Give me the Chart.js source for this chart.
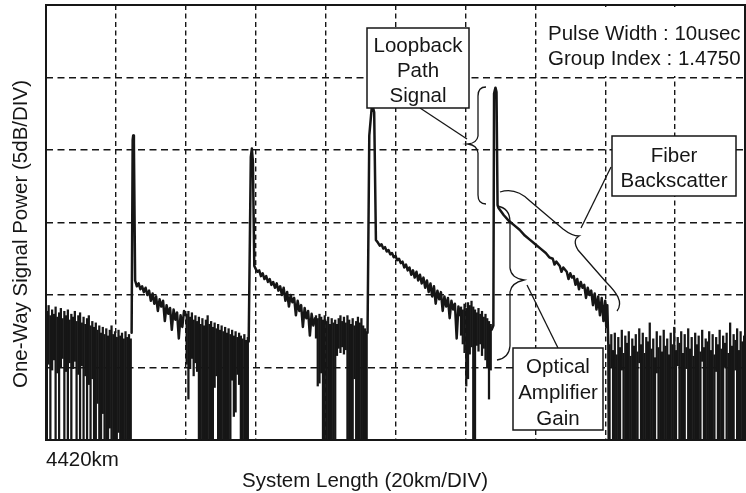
<!DOCTYPE html>
<html>
<head>
<meta charset="utf-8">
<script src="https://cdn.jsdelivr.net/npm/chart.js@4.4.1/dist/chart.umd.min.js"></script>
<style>
  html, body { margin: 0; padding: 0; background: #fff; }
  canvas { display: block; }
</style>
</head>
<body>
<canvas id="otdr" width="746" height="493"></canvas>
<script>
// OTDR trace across four amplifier spans, 20 km and 5 dB per division.
const distanceRangeKm = [4420, 4620];
const powerRangeDb = [0, 30];
const distanceTickLabels = ['4420km'];

// Noise-floor stretches: 0.5 km bins as [bin centre km, min dB, max dB]
const leadNoise = [
  [4420.25, 0, 8.9], [4420.75, 5.2, 9.3], [4421.25, 0, 8.6], [4421.75, 4.8, 9.0], [4422.25, 5.5, 8.7],
  [4422.75, 0, 9.2], [4423.25, 4.6, 8.5], [4423.75, 0, 8.8], [4424.25, 5.0, 9.1], [4424.75, 5.6, 8.4],
  [4425.25, 0, 8.9], [4425.75, 4.7, 8.6], [4426.25, 0, 9.0], [4426.75, 5.3, 8.3], [4427.25, 0, 8.7],
  [4427.75, 4.9, 8.5], [4428.25, 5.4, 8.9], [4428.75, 0, 8.2], [4429.25, 4.5, 8.6], [4429.75, 0, 8.8],
  [4430.25, 5.1, 8.1], [4430.75, 0, 8.5], [4431.25, 4.4, 8.0], [4431.75, 0, 8.4], [4432.25, 3.8, 8.6],
  [4432.75, 0, 7.9], [4433.25, 4.2, 8.2], [4433.75, 0, 7.8], [4434.25, 0, 8.1], [4434.75, 2.5, 7.6],
  [4435.25, 0, 7.9], [4435.75, 0, 7.4], [4436.25, 1.8, 7.8], [4436.75, 0, 7.3], [4437.25, 0, 7.7],
  [4437.75, 0, 7.2], [4438.25, 0.8, 7.6], [4438.75, 0, 7.9], [4439.25, 0, 7.3], [4439.75, 0, 7.5],
  [4440.25, 0, 7.1], [4440.75, 0.5, 7.6], [4441.25, 0, 7.2], [4441.75, 0, 7.4], [4442.25, 0, 7.0],
  [4442.75, 0, 7.5], [4443.25, 0, 7.1], [4443.75, 0, 7.3], [4444.25, 0, 7.0]
];
const tailNoise1 = [
  [4460.25, 5.2, 8.7], [4460.75, 2.8, 8.9], [4461.25, 4.9, 8.5], [4461.75, 5.6, 8.8], [4462.25, 4.4, 8.3],
  [4462.75, 5.3, 8.6], [4463.25, 4.7, 8.2], [4463.75, 0, 8.5], [4464.25, 0, 8.0], [4464.75, 0, 8.4],
  [4465.25, 0, 7.9], [4465.75, 0, 8.3], [4466.25, 0, 8.6], [4466.75, 0, 8.0], [4467.25, 0, 8.2],
  [4467.75, 0, 7.8], [4468.25, 3.6, 8.1], [4468.75, 4.4, 7.7], [4469.25, 0, 8.0], [4469.75, 0, 7.6],
  [4470.25, 0, 7.9], [4470.75, 0, 7.5], [4471.25, 0, 7.8], [4471.75, 0, 7.4], [4472.25, 0, 7.7],
  [4472.75, 0, 7.3], [4473.25, 4.1, 7.6], [4473.75, 1.6, 7.2], [4474.25, 1.9, 7.5], [4474.75, 4.5, 7.1],
  [4475.25, 3.8, 7.4], [4475.75, 0, 7.2], [4476.25, 0, 7.0], [4476.75, 0, 7.3], [4477.25, 0, 6.9],
  [4477.75, 0, 7.1]
];
const tailNoise2 = [
  [4497.25, 7.0, 8.6], [4497.75, 3.7, 8.4], [4498.25, 3.9, 8.7], [4498.75, 4.6, 8.5], [4499.25, 0, 8.3],
  [4499.75, 0, 8.6], [4500.25, 0, 8.2], [4500.75, 0, 8.5], [4501.25, 0, 8.0], [4501.75, 0, 8.4],
  [4502.25, 0, 8.1], [4502.75, 0, 8.3], [4503.25, 5.8, 8.0], [4503.75, 6.3, 8.4], [4504.25, 6.0, 8.6],
  [4504.75, 6.4, 8.2], [4505.25, 5.9, 8.5], [4505.75, 6.2, 8.1], [4506.25, 0, 8.6], [4506.75, 0, 8.3],
  [4507.25, 0, 8.0], [4507.75, 0, 8.4], [4508.25, 4.2, 7.9], [4508.75, 0, 8.2], [4509.25, 0, 8.5],
  [4509.75, 0, 8.1], [4510.25, 0, 8.4], [4510.75, 0, 7.9], [4511.25, 0, 7.7], [4511.75, 0, 7.5]
];
const tailNoise3 = [
  [4538.75, 7.2, 9.2], [4539.25, 6.6, 9.0], [4539.75, 6.0, 9.4], [4540.25, 3.7, 9.1], [4540.75, 4.2, 9.5],
  [4541.25, 5.9, 9.3], [4541.75, 6.4, 9.6], [4542.25, 0, 9.2], [4542.75, 0, 9.0], [4543.25, 6.5, 8.8],
  [4543.75, 6.1, 9.1], [4544.25, 6.6, 8.7], [4544.75, 5.8, 8.9], [4545.25, 6.3, 8.5], [4545.75, 5.5, 8.7],
  [4546.25, 5.0, 8.4], [4546.75, 2.8, 8.2], [4547.25, 4.8, 8.0]
];
const farNoise = [
  [4581.25, 0, 6.6], [4581.75, 5.0, 7.3], [4582.25, 0, 6.2], [4582.75, 0, 7.4], [4583.25, 0, 5.9],
  [4583.75, 0, 7.1], [4584.25, 0, 6.4], [4584.75, 4.8, 7.6], [4585.25, 0, 6.0], [4585.75, 0, 7.2],
  [4586.25, 0, 6.7], [4586.75, 0, 7.5], [4587.25, 0, 5.8], [4587.75, 0, 7.0], [4588.25, 0, 6.5],
  [4588.75, 0, 7.3], [4589.25, 0, 6.1], [4589.75, 5.3, 7.7], [4590.25, 0, 6.6], [4590.75, 0, 7.4],
  [4591.25, 0, 6.0], [4591.75, 0, 7.1], [4592.25, 0, 6.8], [4592.75, 0, 8.1], [4593.25, 0, 6.3],
  [4593.75, 0, 7.0], [4594.25, 0, 5.7], [4594.75, 4.6, 7.5], [4595.25, 0, 6.4], [4595.75, 0, 7.2],
  [4596.25, 0, 6.1], [4596.75, 0, 7.6], [4597.25, 0, 6.5], [4597.75, 0, 7.0], [4598.25, 0, 5.9],
  [4598.75, 0, 7.4], [4599.25, 0, 6.6], [4599.75, 0, 7.8], [4600.25, 0, 6.2], [4600.75, 5.1, 7.1],
  [4601.25, 0, 6.7], [4601.75, 0, 7.5], [4602.25, 0, 6.0], [4602.75, 0, 7.3], [4603.25, 4.9, 6.4],
  [4603.75, 0, 7.7], [4604.25, 0, 6.3], [4604.75, 0, 7.1], [4605.25, 0, 5.8], [4605.75, 0, 7.4],
  [4606.25, 0, 6.6], [4606.75, 0, 7.2], [4607.25, 0, 6.1], [4607.75, 5.4, 7.6], [4608.25, 0, 6.4],
  [4608.75, 0, 7.0], [4609.25, 0, 6.8], [4609.75, 0, 7.5], [4610.25, 0, 6.2], [4610.75, 0, 7.3],
  [4611.25, 0, 5.9], [4611.75, 4.7, 7.1], [4612.25, 0, 6.6], [4612.75, 0, 7.6], [4613.25, 0, 6.3],
  [4613.75, 0, 7.2], [4614.25, 5.0, 6.7], [4614.75, 0, 7.4], [4615.25, 0, 6.0], [4615.75, 0, 8.1],
  [4616.25, 0, 6.5], [4616.75, 0, 7.3], [4617.25, 4.8, 6.9], [4617.75, 0, 7.7], [4618.25, 0, 6.2],
  [4618.75, 0, 7.5], [4619.25, 0, 6.8], [4619.75, 0, 7.2]
];

// Pulses and fiber backscatter as [distance km, dB]
const pulse1 = [[4444.5, 7.4], [4444.8, 20.7], [4444.95, 21.0], [4445.15, 20.5], [4445.5, 11.0]];
const backscatter1 = [
  [4446.0, 10.6], [4446.5, 10.8], [4447.0, 10.4], [4447.5, 10.6], [4448.0, 10.2], [4448.5, 10.5],
  [4449.0, 10.0], [4449.5, 10.3], [4450.0, 9.6], [4450.5, 10.1], [4451.0, 9.4], [4451.5, 9.9],
  [4452.0, 8.9], [4452.5, 9.7], [4453.0, 9.2], [4453.5, 9.6], [4454.0, 8.2], [4454.5, 9.3],
  [4455.0, 8.7], [4455.5, 9.1], [4456.0, 7.6], [4456.5, 9.0], [4457.0, 8.3], [4457.5, 8.8],
  [4458.0, 7.0], [4458.5, 8.6], [4459.0, 7.8], [4459.5, 8.9], [4460.0, 8.6]
];
const pulse2 = [[4478.0, 6.8], [4478.6, 19.5], [4478.9, 20.1], [4479.2, 19.2], [4479.6, 12.0]];
const backscatter2 = [
  [4480.0, 11.8], [4480.5, 11.6], [4481.0, 11.7], [4481.5, 11.3], [4482.0, 11.5], [4482.5, 11.1],
  [4483.0, 11.3], [4483.5, 10.9], [4484.0, 11.1], [4484.5, 10.7], [4485.0, 10.9], [4485.5, 10.5],
  [4486.0, 10.8], [4486.5, 10.3], [4487.0, 10.6], [4487.5, 10.0], [4488.0, 10.5], [4488.5, 9.6],
  [4489.0, 10.2], [4489.5, 9.2], [4490.0, 10.0], [4490.5, 9.5], [4491.0, 9.8], [4491.5, 8.6],
  [4492.0, 9.6], [4492.5, 8.9], [4493.0, 9.3], [4493.5, 7.8], [4494.0, 9.1], [4494.5, 8.4],
  [4495.0, 8.9], [4495.5, 7.2], [4496.0, 8.7], [4496.5, 7.9], [4497.0, 8.4]
];
const pulse3 = [[4512.0, 7.4], [4512.5, 21.0], [4513.3, 23.2], [4513.9, 22.6], [4514.4, 13.8]];
const backscatter3 = [
  [4515.0, 13.6], [4515.5, 13.4], [4516.0, 13.5], [4516.5, 13.2], [4517.0, 13.3], [4517.5, 13.0],
  [4518.0, 13.1], [4518.5, 12.8], [4519.0, 12.9], [4519.5, 12.6], [4520.0, 12.7], [4520.5, 12.4],
  [4521.0, 12.5], [4521.5, 12.2], [4522.0, 12.3], [4522.5, 11.9], [4523.0, 12.1], [4523.5, 11.7],
  [4524.0, 11.9], [4524.5, 11.4], [4525.0, 11.7], [4525.5, 11.2], [4526.0, 11.6], [4526.5, 11.0],
  [4527.0, 11.4], [4527.5, 10.8], [4528.0, 11.2], [4528.5, 10.5], [4529.0, 11.0], [4529.5, 10.2],
  [4530.0, 10.8], [4530.5, 9.9], [4531.0, 10.6], [4531.5, 9.4], [4532.0, 10.3], [4532.5, 9.7],
  [4533.0, 10.2], [4533.5, 8.9], [4534.0, 9.9], [4534.5, 9.2], [4535.0, 9.8], [4535.5, 8.4],
  [4536.0, 9.6], [4536.5, 9.0], [4537.0, 9.4], [4537.5, 7.0], [4538.0, 9.2], [4538.5, 8.6]
];
const loopbackPulse = [[4547.5, 7.6], [4548.0, 7.9], [4548.2, 23.9], [4548.6, 24.3], [4548.9, 24.0], [4549.2, 16.2]];
const backscatter4 = [
  [4549.5, 16.0], [4551.0, 15.5], [4552.5, 15.1], [4554.0, 14.8], [4555.5, 14.5], [4557.0, 14.1],
  [4558.5, 13.8], [4560.0, 13.5], [4561.5, 13.2], [4563.0, 12.9], [4564.0, 12.6], [4565.0, 12.5],
  [4565.5, 12.1], [4566.0, 12.3], [4567.0, 12.0], [4567.5, 11.6], [4568.0, 11.9], [4569.0, 11.6],
  [4569.5, 11.1], [4570.0, 11.5], [4570.5, 11.2], [4571.0, 11.3], [4571.5, 10.7], [4572.0, 11.1],
  [4572.5, 10.4], [4573.0, 10.9], [4573.5, 10.5], [4574.0, 10.7], [4574.5, 9.8], [4575.0, 10.5],
  [4575.5, 10.0], [4576.0, 10.3], [4576.5, 9.3], [4577.0, 10.1], [4577.5, 9.0], [4578.0, 9.9],
  [4578.5, 8.6], [4579.0, 9.8], [4579.5, 8.2], [4580.0, 9.6], [4580.3, 7.8], [4580.6, 9.3],
  [4580.9, 6.5], [4581.0, 0]
];

// continuous stretches of the trace; noise bins fill the space between them
const traceRuns = [
  [...pulse1, ...backscatter1],
  [...pulse2, ...backscatter2],
  [...pulse3, ...backscatter3],
  [...loopbackPulse, ...backscatter4]
];
const tracePoints = [];
traceRuns.forEach((run, i) => {
  if (i > 0) tracePoints.push({ x: run[0][0] - 0.01, y: null });
  run.forEach(([km, db]) => tracePoints.push({ x: km, y: db }));
});
const noiseBins = [leadNoise, tailNoise1, tailNoise2, tailNoise3, farNoise]
  .flat()
  .map(([km, lo, hi]) => ({ x: km, y: [lo, hi] }));

const headerLines = ['Pulse Width : 10usec', 'Group Index : 1.4750'];
const loopbackNote = ['Loopback', 'Path', 'Signal'];
const backscatterNote = ['Fiber', 'Backscatter'];
const gainNote = ['Optical', 'Amplifier', 'Gain'];
const xTitle = 'System Length (20km/DIV)';
const yTitle = 'One-Way Signal Power (5dB/DIV)';

const INK = '#161616';
const FAMILY = '"Liberation Sans", Arial, Helvetica, sans-serif';
const FONT = '20.5px ' + FAMILY;

function noteBox(ctx, x, y, w, h, lines, baselines) {
  ctx.fillStyle = '#fff';
  ctx.fillRect(x, y, w, h);
  ctx.lineWidth = 1.5;
  ctx.strokeStyle = INK;
  ctx.strokeRect(x, y, w, h);
  ctx.fillStyle = INK;
  ctx.textAlign = 'center';
  ctx.textBaseline = 'alphabetic';
  lines.forEach((t, i) => ctx.fillText(t, x + w / 2, baselines[i]));
}

function segment(ctx, x1, y1, x2, y2) {
  ctx.beginPath();
  ctx.moveTo(x1, y1);
  ctx.lineTo(x2, y2);
  ctx.stroke();
}

const annotations = {
  id: 'annotations',
  beforeDatasetsDraw(chart) {
    const ctx = chart.ctx;
    ctx.save();
    // clear area behind the acquisition settings
    ctx.fillStyle = '#fff';
    ctx.fillRect(544, 7, 200, 69);
    ctx.restore();
  },
  afterDatasetsDraw(chart) {
    const ctx = chart.ctx;
    const a = chart.chartArea;
    ctx.save();
    ctx.font = FONT;

    // plot frame
    ctx.lineWidth = 2;
    ctx.strokeStyle = INK;
    ctx.strokeRect(a.left, a.top, a.right - a.left, a.bottom - a.top);

    // acquisition settings
    ctx.fillStyle = INK;
    ctx.textAlign = 'left';
    ctx.textBaseline = 'alphabetic';
    ctx.fillText(headerLines[0], 548, 40);
    ctx.fillText(headerLines[1], 548, 65);

    ctx.lineWidth = 1.3;
    ctx.strokeStyle = INK;

    // brace around the loopback pulse
    ctx.beginPath();
    ctx.moveTo(486, 87);
    ctx.quadraticCurveTo(478, 87, 478, 96);
    ctx.lineTo(478, 136);
    ctx.quadraticCurveTo(477, 143, 468, 144);
    ctx.quadraticCurveTo(477, 145, 478, 153);
    ctx.lineTo(478, 195);
    ctx.quadraticCurveTo(478, 204, 486, 204);
    ctx.stroke();
    segment(ctx, 420, 108, 467, 139);

    // brace along the fiber backscatter
    ctx.beginPath();
    ctx.moveTo(500, 192);
    ctx.bezierCurveTo(512, 188, 522, 193, 530, 201);
    ctx.lineTo(563, 229);
    ctx.quadraticCurveTo(572, 236, 579, 236);
    ctx.quadraticCurveTo(572, 240, 578, 250);
    ctx.lineTo(606, 282);
    ctx.bezierCurveTo(616, 292, 624, 302, 617, 311);
    ctx.stroke();
    segment(ctx, 611, 167, 581, 228);

    // brace around the amplifier gain step
    ctx.beginPath();
    ctx.moveTo(497, 206);
    ctx.quadraticCurveTo(510, 208, 510, 222);
    ctx.lineTo(510, 268);
    ctx.quadraticCurveTo(511, 278, 524, 280);
    ctx.quadraticCurveTo(511, 283, 510, 292);
    ctx.lineTo(510, 346);
    ctx.quadraticCurveTo(509, 358, 497, 360);
    ctx.stroke();
    segment(ctx, 558, 348, 527, 285);

    noteBox(ctx, 367, 28, 102, 80, loopbackNote, [51.5, 77, 102]);
    noteBox(ctx, 612, 136, 124, 60, backscatterNote, [162, 187]);
    noteBox(ctx, 513, 348, 90, 82, gainNote, [373, 399, 425]);

    // axis titles
    ctx.fillStyle = INK;
    ctx.textAlign = 'center';
    ctx.textBaseline = 'alphabetic';
    ctx.fillText(xTitle, 365, 487);
    ctx.translate(27, 234);
    ctx.rotate(-Math.PI / 2);
    ctx.fillText(yTitle, 0, 0);
    ctx.restore();
  }
};

new Chart(document.getElementById('otdr'), {
  type: 'scatter',
  data: {
    datasets: [
      {
        type: 'bar',
        data: noiseBins,
        backgroundColor: INK,
        borderWidth: 0,
        barPercentage: 1.3,
        categoryPercentage: 1,
        order: 2
      },
      {
        data: tracePoints,
        showLine: true,
        spanGaps: false,
        borderColor: INK,
        borderWidth: 2.5,
        borderJoinStyle: 'round',
        borderCapStyle: 'round',
        pointRadius: 0,
        pointHoverRadius: 0,
        tension: 0,
        order: 1
      }
    ]
  },
  options: {
    responsive: false,
    animation: false,
    devicePixelRatio: 1,
    events: [],
    layout: { padding: { top: 5, right: 1, left: 0, bottom: 0 } },
    plugins: { legend: { display: false }, tooltip: { enabled: false } },
    scales: {
      x: {
        type: 'linear',
        min: distanceRangeKm[0],
        max: distanceRangeKm[1],
        offset: false,
        afterFit: (s) => { s.height = 53; s.paddingLeft = 0; s.paddingRight = 0; },
        ticks: {
          stepSize: 20,
          autoSkip: false,
          minRotation: 0,
          maxRotation: 0,
          align: 'start',
          padding: 8,
          color: INK,
          font: { family: FAMILY, size: 20.5 },
          callback: (v, i) => (i === 0 ? distanceTickLabels[0] : '')
        },
        grid: { color: INK, lineWidth: 1.4, drawTicks: false, offset: false },
        border: { display: false, dash: [5, 3.5] }
      },
      y: {
        min: powerRangeDb[0],
        max: powerRangeDb[1],
        afterFit: (s) => { s.width = 46; },
        ticks: { stepSize: 5, display: false },
        grid: { color: INK, lineWidth: 1.4, drawTicks: false },
        border: { display: false, dash: [7, 4.5] }
      }
    }
  },
  plugins: [annotations]
});
</script>
</body>
</html>
